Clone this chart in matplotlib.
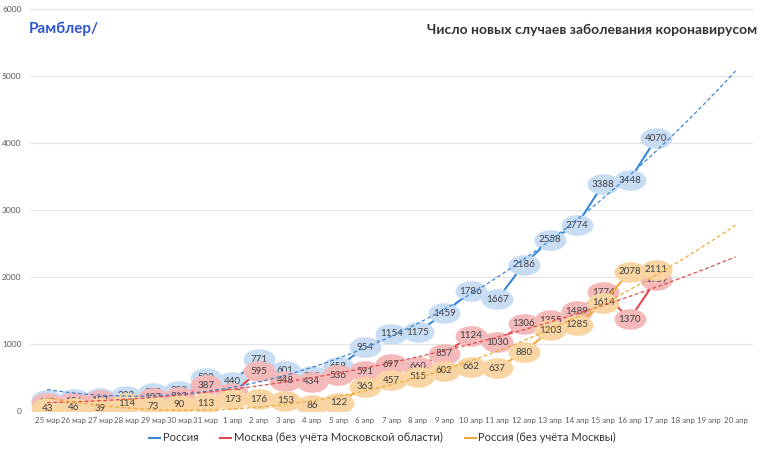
import numpy as np
import matplotlib.pyplot as plt
from matplotlib.path import Path
from matplotlib.transforms import Affine2D

plt.rcParams['font.family'] = ['Lato', 'DejaVu Sans']

dates = ['25 мар', '26 мар', '27 мар', '28 мар', '29 мар', '30 мар', '31 мар',
         '1 апр', '2 апр', '3 апр', '4 апр', '5 апр', '6 апр', '7 апр', '8 апр',
         '9 апр', '10 апр', '11 апр', '12 апр', '13 апр', '14 апр', '15 апр',
         '16 апр', '17 апр', '18 апр', '19 апр', '20 апр']
russia = [163, 182, 196, 228, 270, 302, 500, 440, 771, 601, 520, 658, 954, 1154,
          1175, 1459, 1786, 1667, 2186, 2558, 2774, 3388, 3448, 4070]
moscow = [120, 136, 157, 114, 197, 212, 387, 267, 595, 448, 434, 536, 591, 697,
          660, 857, 1124, 1030, 1306, 1355, 1489, 1774, 1370, 1959]
russia_wo_msk = [43, 46, 39, 114, 73, 90, 113, 173, 176, 153, 86, 122, 363, 457,
                 515, 602, 662, 637, 880, 1203, 1285, 1614, 2078, 2111]
names = ['Россия', 'Москва (без учёта Московской области)', 'Россия (без учёта Москвы)']
line_colors = ['#3a88d8', '#e04a4a', '#f0a93a']
bubble_colors = ['#c8ddf3', '#f4b9b9', '#f8d5a2']

ellipse = Path.unit_circle().transformed(Affine2D().scale(1.55, 1.0))

fig = plt.figure(figsize=(7.65, 4.51), dpi=100)
ax = fig.add_axes([0.039, 0.0887, 0.945, 0.891])

xall = np.arange(len(dates))
handles = []
for vals, name, lc, bc in zip([russia, moscow, russia_wo_msk], names, line_colors, bubble_colors):
    x = np.arange(len(vals))
    h, = ax.plot(x, vals, color=lc, lw=1.5, zorder=3)
    handles.append(h)
    ax.plot(x, vals, ls='none', marker=ellipse, ms=23, mfc=bc, mec='none', zorder=3)
    for xi, v in zip(x, vals):
        ax.text(xi, v, str(v), ha='center', va='center', fontsize=7,
                color='#404040', zorder=3)

# polynomial trend lines (2nd order, as in the source spreadsheet)
for vals, lc in zip([russia, moscow, russia_wo_msk], line_colors):
    x = np.arange(len(vals))
    coef = np.polyfit(x, vals, 2)
    xt = np.linspace(0, len(dates) - 1, 200)
    ax.plot(xt, np.polyval(coef, xt), color=lc, lw=0.9, ls=(0, (3, 2)), zorder=4)

ax.set_xlim(-0.65, 26.65)
ax.set_ylim(0, 6000)
ax.set_yticks(range(0, 6001, 1000))
ax.set_xticks(xall)
ax.set_xticklabels(dates)
ax.tick_params(axis='x', length=0, labelsize=5.7, colors='#595959', pad=4)
ax.tick_params(axis='y', length=0, labelsize=6, colors='#595959', pad=6)
ax.grid(axis='y', color='#e4e4e4', lw=0.8)
ax.set_axisbelow(True)
for s in ax.spines.values():
    s.set_visible(False)

fig.text(0.037, 0.936, 'Рамблер/', color='#2f55d4', fontsize=11, fontweight='bold',
         ha='left', va='center')
fig.text(0.99, 0.934, 'Число новых случаев заболевания коронавирусом', color='#333333',
         fontsize=10, fontweight='bold', ha='right', va='center')

fig.legend(handles, names, loc='center', bbox_to_anchor=(0.5, 0.029), ncol=3,
           frameon=False, fontsize=8, handlelength=1.0, handletextpad=0.2,
           columnspacing=2.0, labelcolor='#333333')

fig.savefig('out.png', dpi=100)
